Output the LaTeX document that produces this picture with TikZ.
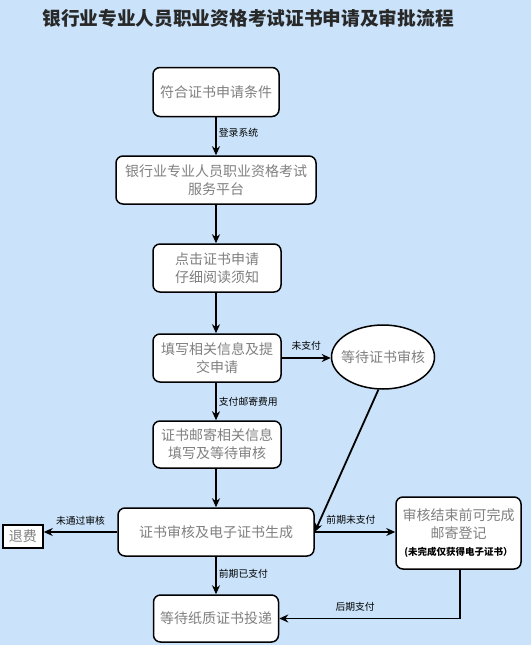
\documentclass[tikz,border=0pt]{standalone}
\usepackage{fontspec}
\setmainfont{Noto Sans CJK SC}
\usetikzlibrary{shapes.geometric,arrows.meta}
\definecolor{bgblue}{RGB}{202,227,250}
\definecolor{boxtext}{RGB}{128,128,128}
\definecolor{titletext}{RGB}{40,40,40}
\tikzset{
  flowbox/.style={draw=black,line width=1.5pt,fill=white,rounded corners=7pt,
    text=boxtext,align=center,inner sep=0pt,font=\fontsize{14}{18}\selectfont},
  plainbox/.style={draw=black,line width=1.5pt,fill=white,
    text=boxtext,align=center,inner sep=0pt,font=\fontsize{14}{18}\selectfont},
  conn/.style={draw=black,line width=1.8pt,-{Stealth[length=9pt,width=8pt]}},
  lab/.style={font=\fontsize{9.8}{11}\selectfont,text=black,inner sep=2pt}
}
\begin{document}
\begin{tikzpicture}[x=1pt,y=-1pt]
\fill[bgblue] (0,0) rectangle (531,645);
\useasboundingbox (0,0) rectangle (531,645);

\node[font=\bfseries\fontsize{18.7}{20}\selectfont,text=titletext] (title) at (248,18)
  {银行业专业人员职业资格考试证书申请及审批流程};

\node[flowbox,minimum width=126pt,minimum height=49pt] (b1) at (216,92) {符合证书申请条件};
\node[flowbox,minimum width=200pt,minimum height=48pt] (b2) at (216,180) {银行业专业人员职业资格考试\\服务平台};
\node[flowbox,minimum width=128pt,minimum height=48pt] (b3) at (217,268) {点击证书申请\\仔细阅读须知};
\node[flowbox,minimum width=128pt,minimum height=48pt] (b4) at (217,358) {填写相关信息及提\\交申请};
\node[ellipse,draw=black,line width=1.5pt,fill=white,text=boxtext,inner xsep=-6pt,inner ysep=0pt,
  minimum width=103pt,minimum height=64pt,font=\fontsize{14}{18}\selectfont] (ell) at (383,357) {等待证书审核};
\node[flowbox,minimum width=128pt,minimum height=47pt] (b5) at (217,444.5) {证书邮寄相关信息\\填写及等待审核};
\node[flowbox,minimum width=196pt,minimum height=48pt] (b6) at (216,532) {证书审核及电子证书生成};
\node[plainbox,minimum width=40pt,minimum height=23pt] (tf) at (23,536.5) {退费};
\node[flowbox,minimum width=125pt,minimum height=72pt] (rb) at (458.5,533)
  {审核结束前可完成\\邮寄登记\\[-1pt]{\fontsize{9.5}{11}\selectfont\bfseries\color{black}(未完成仅获得电子证书）}};
\node[flowbox,minimum width=125pt,minimum height=47pt] (b7) at (216,618.5) {等待纸质证书投递};

\draw[conn] (b1.south) -- node[lab,right,pos=0.4] {登录系统} (b2.north -| b1.south);
\draw[conn] (b2.south -| b1.south) -- (b3.north -| b1.south);
\draw[conn] (b3.south -| b1.south) -- (b4.north -| b1.south);
\draw[conn] (b4.east) -- node[lab,above,yshift=5pt] {未支付} (ell.west |- b4.east);
\draw[conn] (b4.south -| b1.south) -- node[lab,right] {支付邮寄费用} (b5.north -| b1.south);
\draw[conn] (b5.south -| b1.south) -- (b6.north -| b1.south);
\draw[conn] (ell.262) -- (b6.east);
\draw[conn] (b6.east) -- node[lab,above,pos=0.45,yshift=5pt] {前期未支付} (rb.west |- b6.east);
\draw[conn] (b6.west) -- node[lab,above,yshift=4pt] {未通过审核} (tf.east |- b6.west);
\draw[conn] (b6.south -| b1.south) -- node[lab,right,pos=0.45] {前期已支付} (b7.north -| b1.south);
\draw[conn] ([xshift=1.5pt]rb.south) |- node[lab,above,pos=0.79,yshift=4pt] {后期支付} (b7.east);
\end{tikzpicture}
\end{document}
